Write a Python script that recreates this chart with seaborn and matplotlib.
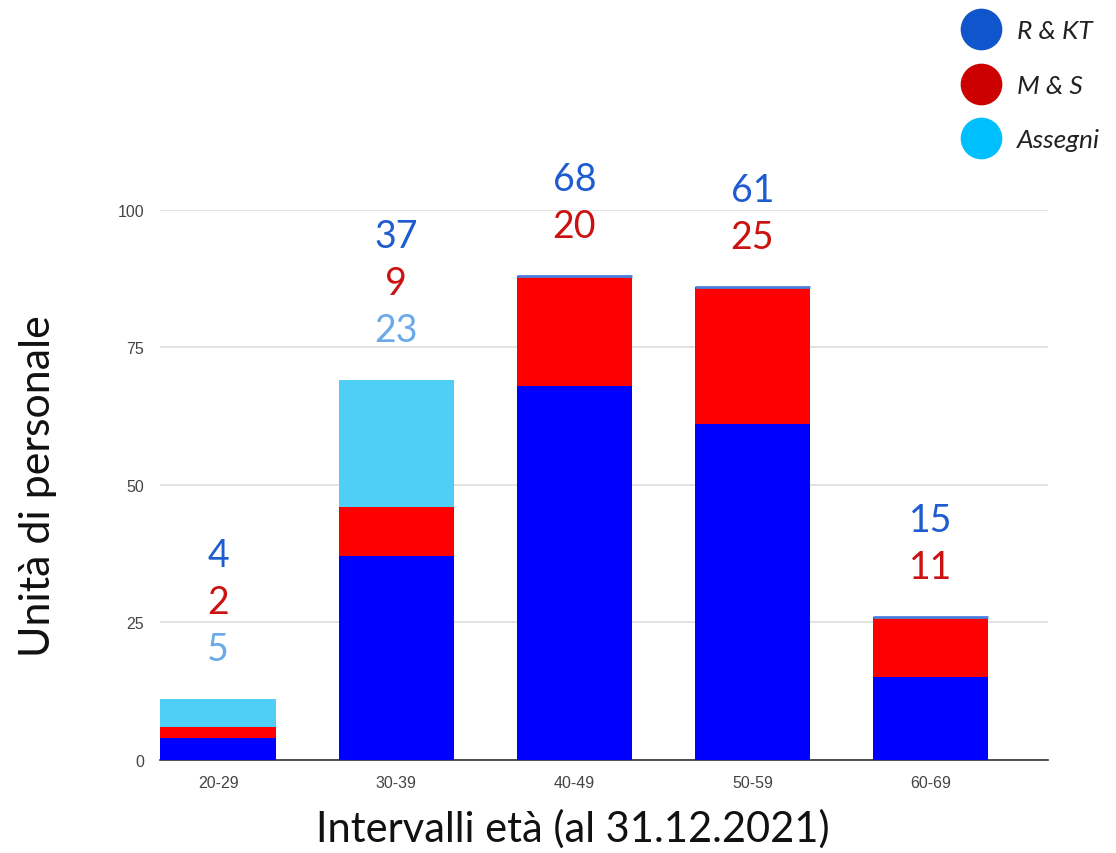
import numpy as np
import pandas as pd
import matplotlib
matplotlib.use('Agg')
import matplotlib.pyplot as plt
import seaborn as sns
from matplotlib.lines import Line2D

# ── Data ───────────────────────────────────────────────────────────────────
categories = ['20-29', '30-39', '40-49', '50-59', '60-69']
r_kt     = [4, 37, 68, 61, 15]
m_s      = [2, 9, 20, 25, 11]
assegni  = [5, 23, 0, 0, 0]
series_names = ['R & KT', 'M & S', 'Assegni']

# ── Style ──────────────────────────────────────────────────────────────────
sns.set_theme(style='white')
plt.rcParams['font.family'] = ['Lato', 'DejaVu Sans']

BAR_COLORS   = ['#0000FF', '#FF0000', '#4FCFF5']
LABEL_COLORS = ['#1F5CD0', '#CC1111', '#6AAAE8']
LEGEND_COLORS = ['#1155CC', '#CC0000', '#00BFFF']

df = pd.DataFrame({'cat': categories, 'r_kt': r_kt, 'm_s': m_s, 'assegni': assegni})
df['lvl2'] = df['r_kt'] + df['m_s']
df['total'] = df['lvl2'] + df['assegni']

fig = plt.figure(figsize=(11.16, 8.54), dpi=100)
ax = fig.add_axes([0.143, 0.109, 0.796, 0.644])

width = 0.65
# stacked by drawing cumulative heights back to front
for col, color in [('total', BAR_COLORS[2]), ('lvl2', BAR_COLORS[1]), ('r_kt', BAR_COLORS[0])]:
    sns.barplot(data=df, x='cat', y=col, color=color, width=width,
                saturation=1, linewidth=0, ax=ax, zorder=3)

# thin line on top of bars with no "Assegni"
xs = np.arange(len(categories))
zero = df['assegni'].values == 0
ax.hlines(df['total'].values[zero], xs[zero] - width / 2, xs[zero] + width / 2,
          color='#4A80E0', lw=2, zorder=4)

# value labels stacked above each bar
for i, row in df.iterrows():
    vals = [row['r_kt'], row['m_s'], row['assegni']]
    shown = [(v, LABEL_COLORS[k]) for k, v in enumerate(vals) if v > 0]
    n = len(shown)
    for j, (v, c) in enumerate(shown):
        off = 36 + (n - 1 - j) * 34
        ax.annotate(f'{v}', (i, row['total']), xytext=(0, off), textcoords='offset points',
                    ha='center', va='center', fontsize=27, color=c, annotation_clip=False)

ax.set_ylim(0, 100)
ax.set_xlim(-0.33, 4.66)
ax.set_yticks([0, 25, 50, 75, 100])
ax.yaxis.grid(True, color='#DDDDDD', lw=1.2, zorder=0)
ax.set_axisbelow(True)
for s in ['top', 'right', 'left']:
    ax.spines[s].set_visible(False)
ax.spines['bottom'].set_color('#333333')
ax.spines['bottom'].set_linewidth(1.2)
ax.tick_params(axis='both', length=0, pad=11, labelsize=11.5, labelcolor='#444444')
for lab in ax.get_xticklabels() + ax.get_yticklabels():
    lab.set_family(['Liberation Sans', 'DejaVu Sans'])

ax.set_xlabel('Intervalli età (al 31.12.2021)', fontsize=30, color='#111111')
ax.xaxis.set_label_coords(0.465, -0.088)
ax.set_ylabel('Unità di personale', fontsize=31, color='#111111', labelpad=44)

# legend with circle markers
handles = [Line2D([0], [0], marker='o', linestyle='', markersize=29,
                  markerfacecolor=c, markeredgecolor=c) for c in LEGEND_COLORS]
leg = fig.legend(handles, series_names, loc='upper right', bbox_to_anchor=(1.0, 0.995),
                 frameon=False, prop={'family': 'Lato', 'style': 'italic', 'size': 19},
                 labelspacing=1.2, handletextpad=0.35, borderaxespad=0.2)
for t in leg.get_texts():
    t.set_color('#222222')

fig.savefig('out.png', dpi=100)
